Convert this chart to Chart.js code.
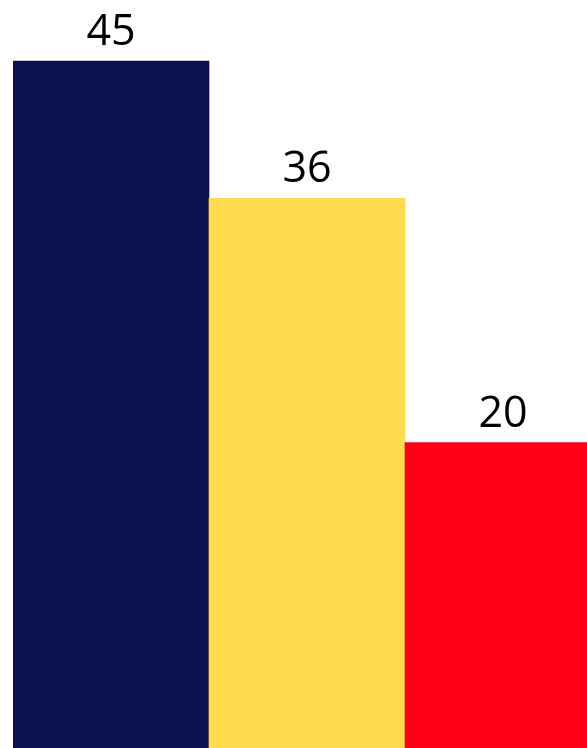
<!DOCTYPE html>
<html>
<head>
<meta charset="utf-8">
<script src="https://cdn.jsdelivr.net/npm/chart.js@4/dist/chart.umd.min.js"></script>
<style>
  html, body { margin: 0; padding: 0; background: #fff; overflow: hidden; }
  #wrap { width: 601px; height: 748px; }
</style>
</head>
<body>
<div id="wrap"><canvas id="barChart" width="601" height="748"></canvas></div>
<script>
// chart values
const categories = ['A', 'B', 'C'];
const values = [45, 36, 20];
const barColors = ['rgb(11, 17, 78)', 'rgb(253, 220, 80)', 'rgb(255, 0, 22)'];

// draw the value above each bar
const valueLabels = {
    id: 'valueLabels',
    afterDatasetsDraw(chart) {
        const c = chart.ctx;
        const meta = chart.getDatasetMeta(0);
        c.save();
        c.font = '43px "Open Sans"';
        c.fillStyle = '#000';
        c.textAlign = 'center';
        c.textBaseline = 'alphabetic';
        meta.data.forEach((bar, i) => {
            c.fillText(String(values[i]), bar.x, bar.y - 16);
        });
        c.restore();
    }
};

const ctx = document.getElementById('barChart').getContext('2d');
const chart = new Chart(ctx, {
    type: 'bar',
    data: {
        labels: categories,
        datasets: [{
            data: values,
            backgroundColor: barColors,
            borderWidth: 0,
            barPercentage: 1,
            categoryPercentage: 1,
        }],
    },
    options: {
        responsive: false,
        animation: false,
        layout: { padding: { left: 13, right: 0, top: 0, bottom: 0 } },
        plugins: {
            legend: { display: false },
            tooltip: { enabled: false },
        },
        scales: {
            x: { display: false, offset: true },
            y: { display: false, min: 0, max: 49 },
        },
    },
    plugins: [valueLabels],
});
</script>
</body>
</html>
